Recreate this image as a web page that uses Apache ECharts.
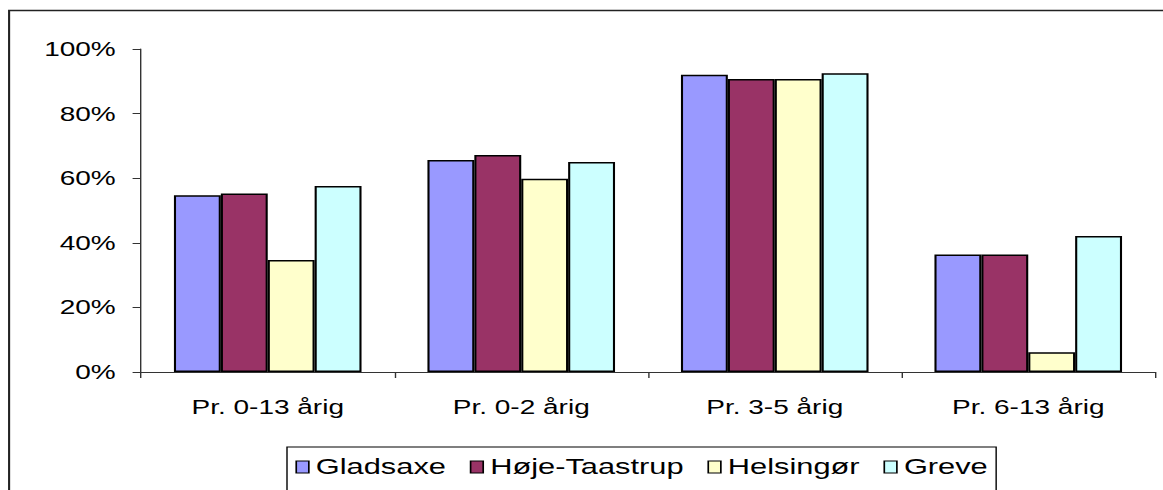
<!DOCTYPE html>
<html>
<head>
<meta charset="utf-8">
<script src="https://cdn.jsdelivr.net/npm/echarts@6/dist/echarts.min.js"></script>
<style>
  html, body { margin: 0; padding: 0; background: #fff; overflow: hidden; }
  /* the reference is stretched sideways, so the chart is drawn narrow and widened */
  #chart { width: 831px; height: 490px; transform: scaleX(1.4); transform-origin: 0 0; }
</style>
</head>
<body>
<div id="chart"></div>
<script>
const categories = ["Pr. 0-13 årig", "Pr. 0-2 årig", "Pr. 3-5 årig", "Pr. 6-13 årig"];
const gladsaxe = [54.7, 65.6, 92.0, 36.4];
const hojeTaastrup = [55.3, 67.2, 90.7, 36.4];
const helsingor = [34.7, 59.8, 90.7, 6.1];
const greve = [57.6, 65.0, 92.5, 42.1];
const yTicks = [0, 20, 40, 60, 80, 100];

const font = "'Liberation Sans', Arial, sans-serif";

const chart = echarts.init(document.getElementById("chart"), null, { renderer: "svg" });

const bar = (name, data, color) => ({
  name: name,
  type: "bar",
  data: data,
  barGap: 0,
  barCategoryGap: "26%",
  itemStyle: { color: color, borderColor: "#000", borderWidth: 1.5 },
});

chart.setOption({
  animation: false,
  backgroundColor: "#fff",
  graphic: [
    {
      type: "rect",
      shape: { x: 6.5, y: 10.5, width: 900, height: 600 },
      style: { fill: "none", stroke: "#222", lineWidth: 1.5 },
      silent: true,
    },
  ],
  grid: { left: 100.7, right: 6, top: 49, bottom: 118, containLabel: false },
  xAxis: {
    type: "category",
    data: categories,
    axisLine: { lineStyle: { color: "#333", width: 1 } },
    axisTick: { show: true, length: 6, lineStyle: { color: "#333" } },
    axisLabel: { color: "#000", fontSize: 20, fontFamily: font, margin: 25 },
  },
  yAxis: {
    type: "value",
    min: yTicks[0],
    max: yTicks[yTicks.length - 1],
    interval: 20,
    splitLine: { show: false },
    axisLine: { show: true, lineStyle: { color: "#333", width: 1 } },
    axisTick: { show: true, length: 6, lineStyle: { color: "#333" } },
    axisLabel: { color: "#000", fontSize: 20, fontFamily: font, margin: 18, formatter: "{value}%" },
  },
  legend: {
    left: 205,
    top: 447,
    icon: "rect",
    itemWidth: 9,
    itemHeight: 12,
    itemGap: 17,
    padding: [9, 6, 40, 6],
    borderColor: "#000",
    borderWidth: 1,
    backgroundColor: "#fff",
    itemStyle: { borderColor: "#000", borderWidth: 1.2 },
    textStyle: { color: "#000", fontSize: 22, fontFamily: font },
    data: ["Gladsaxe", "Høje-Taastrup", "Helsingør", "Greve"],
  },
  series: [
    bar("Gladsaxe", gladsaxe, "#9999ff"),
    bar("Høje-Taastrup", hojeTaastrup, "#993366"),
    bar("Helsingør", helsingor, "#ffffcc"),
    bar("Greve", greve, "#ccffff"),
  ],
});
</script>
</body>
</html>
